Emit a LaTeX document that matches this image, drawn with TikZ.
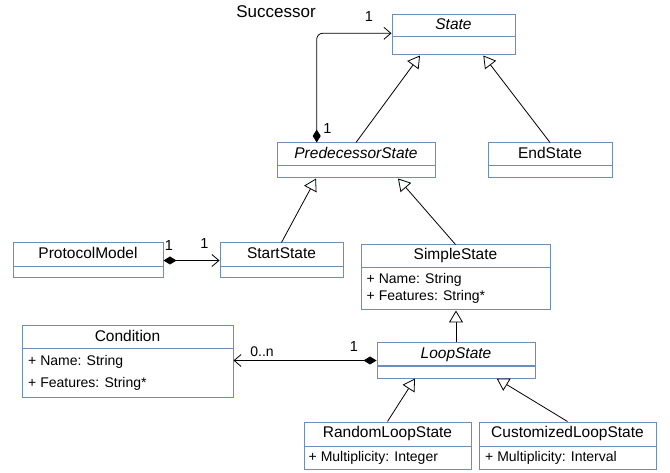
\documentclass[tikz,border=0pt]{standalone}
\usepackage{fontspec}
\setmainfont{Liberation Sans}
\usetikzlibrary{arrows.meta,calc}
\definecolor{boxblue}{HTML}{6C8EBF}
\tikzset{
  clsbox/.style={draw=boxblue, line width=1pt, fill=white, inner sep=0pt, rectangle},
  divline/.style={draw=boxblue, line width=1pt},
  title/.style={inner sep=0pt, text height=0.72em, text depth=0pt, font=\fontsize{15.5}{18}\selectfont},
  ititle/.style={title, font=\fontsize{15.5}{18}\selectfont\itshape},
  attr/.style={inner sep=0pt, anchor=west, text height=0.72em, text depth=0pt, font=\fontsize{14}{16}\selectfont},
  mult/.style={inner sep=0pt, text height=0.72em, text depth=0pt, font=\fontsize{14.5}{16}\selectfont},
  gen/.style={draw=black, line width=0.8pt, -{Triangle[open, length=12pt, width=14pt, fill=white]}},
  assoc/.style={draw=black, line width=0.8pt},
  comp/.style={assoc, {Diamond[length=13pt, width=8pt]}-{Straight Barb[length=7pt, width=12pt]}},
}
\begin{document}
\begin{tikzpicture}[x=1pt, y=-1pt]
\useasboundingbox (0,0) rectangle (670,473);

% boxes
\node[clsbox, minimum width=123pt, minimum height=40pt] (state) at (453.5,35) {};
\node[clsbox, minimum width=158pt, minimum height=35pt] (pred) at (356,160.5) {};
\node[clsbox, minimum width=124pt, minimum height=35pt] (end) at (550,160.5) {};
\node[clsbox, minimum width=150pt, minimum height=35pt] (proto) at (88,260.5) {};
\node[clsbox, minimum width=123pt, minimum height=35pt] (start) at (281.5,260.5) {};
\node[clsbox, minimum width=189pt, minimum height=65pt] (simple) at (455.5,277.5) {};
\node[clsbox, minimum width=158pt, minimum height=35pt] (loop) at (456,360.5) {};
\node[clsbox, minimum width=211pt, minimum height=71pt] (cond) at (127.5,361.5) {};
\node[clsbox, minimum width=167pt, minimum height=47pt] (rand) at (387.5,445.5) {};
\node[clsbox, minimum width=177pt, minimum height=47pt] (cust) at (567.5,445.5) {};

% dividers
\draw[divline] (state.west |- 0,37) -- (state.east |- 0,37);
\draw[divline] (pred.west |- 0,166) -- (pred.east |- 0,166);
\draw[divline] (end.west |- 0,166) -- (end.east |- 0,166);
\draw[divline] (proto.west |- 0,266.7) -- (proto.east |- 0,266.7);
\draw[divline] (start.west |- 0,266.7) -- (start.east |- 0,266.7);
\draw[divline] (simple.west |- 0,267.3) -- (simple.east |- 0,267.3);
\draw[divline] (loop.west |- 0,366) -- (loop.east |- 0,366);
\draw[divline] (cond.west |- 0,349) -- (cond.east |- 0,349);
\draw[divline] (rand.west |- 0,446.7) -- (rand.east |- 0,446.7);
\draw[divline] (cust.west |- 0,446.7) -- (cust.east |- 0,446.7);

% titles
\node[ititle] (tstate) at (453.5,26) {State};
\node[ititle] (tpred) at (356,154.5) {PredecessorState};
\node[title] (tend) at (550,154.5) {EndState};
\node[title] (tproto) at (88,254.8) {ProtocolModel};
\node[title] (tstart) at (281.5,254.8) {StartState};
\node[title] (tsimple) at (455.5,256) {SimpleState};
\node[ititle] (tloop) at (456,354.5) {LoopState};
\node[title] (tcond) at (127.5,337.5) {Condition};
\node[title] (trand) at (387.5,434.3) {RandomLoopState};
\node[title] (tcust) at (567.5,434.3) {CustomizedLoopState};

% attributes
\node[attr] (as1) at (366.5,280) {+ Name: String};
\node[attr] (as2) at (366.5,296.7) {+ Features: String*};
\node[attr] (ac1) at (28,361.7) {+ Name: String};
\node[attr] (ac2) at (28,384) {+ Features: String*};
\node[attr] (ar1) at (308.5,458.3) {+ Multiplicity: Integer};
\node[attr] (au1) at (485,458.3) {+ Multiplicity: Interval};

% generalizations
\draw[gen] (pred.north) -- ([xshift=-33.5pt]state.south);
\draw[gen] (end.north) -- ([xshift=29.8pt]state.south);
\draw[gen] (start.north) -- ([xshift=-40pt]pred.south);
\draw[gen] (simple.north) -- ([xshift=42pt]pred.south);
\draw[gen] (loop.north) -- (loop.north |- simple.south);
\draw[gen] (rand.north) -- ([xshift=-41pt]loop.south);
\draw[gen] (cust.north) -- ([xshift=40.7pt]loop.south);

% associations
\draw[comp, rounded corners=6pt] ([xshift=-39.3pt]pred.north) |- ([yshift=1.7pt]state.west);
\draw[comp] (proto.east) -- (start.west);
\draw[comp] (loop.west) -- (loop.west -| cond.east);

% labels
\node[title, font=\fontsize{17}{20}\selectfont] (succ) at (276,14) {Successor};
\node[mult] (m1) at (369,18) {1};
\node[mult] (m2) at (327.5,129.5) {1};
\node[mult] (m3) at (169,246.5) {1};
\node[mult] (m4) at (204.5,244.5) {1};
\node[mult, font=\fontsize{14}{16}\selectfont] (m5) at (262,352.5) {0..n};
\node[mult] (m6) at (354,348) {1};
\end{tikzpicture}
\end{document}
